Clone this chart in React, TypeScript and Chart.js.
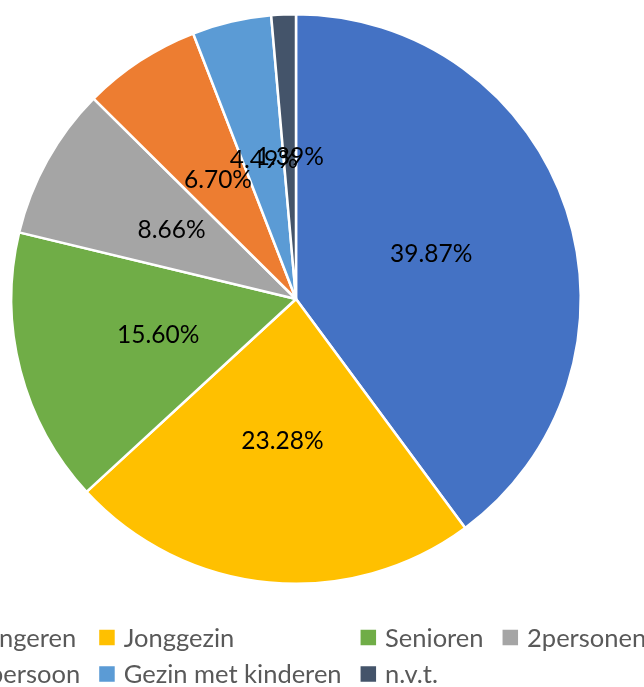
import React, { useEffect, useRef } from "react";
import { Chart, registerables } from "chart.js";

Chart.register(...registerables);

const categories = ["Jongeren", "Jonggezin", "Senioren", "2personen", "1persoon", "Gezin met kinderen", "n.v.t."];
const values = [39.87, 23.28, 15.6, 8.66, 6.7, 4.49, 1.39];
const colors = ["#4472C4", "#FFC000", "#70AD47", "#A5A5A5", "#ED7D31", "#5B9BD5", "#44546A"];
const legendColumns = 4;

const FONT = "Lato, 'Open Sans', sans-serif";

const labelPlugin = {
  id: "pctLabels",
  afterDatasetsDraw(chart: any) {
    const ctx = chart.ctx;
    const meta = chart.getDatasetMeta(0);
    ctx.save();
    ctx.font = `24.5px ${FONT}`;
    ctx.fillStyle = "#000000";
    ctx.textAlign = "center";
    ctx.textBaseline = "middle";
    meta.data.forEach((arc: any, i: number) => {
      const p = arc.getProps(["x", "y", "startAngle", "endAngle", "outerRadius"], true);
      const mid = (p.startAngle + p.endAngle) / 2;
      const r = p.outerRadius * 0.5;
      ctx.fillText(values[i].toFixed(2) + "%", p.x + Math.cos(mid) * r, p.y + Math.sin(mid) * r);
    });
    ctx.restore();
  },
};

const gridLegendPlugin = {
  id: "gridLegend",
  afterDraw(chart: any) {
    const ctx = chart.ctx;
    const labels: string[] = chart.data.labels;
    const bg: string[] = chart.data.datasets[0].backgroundColor;
    const box = 15.5;
    const boxGap = 9;
    const colGap = 19;
    const rowHeight = 36.5;
    const firstRowY = 637.5;
    ctx.save();
    ctx.font = `25.5px ${FONT}`;
    const colW: number[] = new Array(legendColumns).fill(0);
    labels.forEach((l, i) => {
      const w = box + boxGap + ctx.measureText(l).width;
      const c = i % legendColumns;
      colW[c] = Math.max(colW[c], w);
    });
    const total = colW.reduce((a, b) => a + b, 0) + colGap * (legendColumns - 1);
    const cx = (chart.chartArea.left + chart.chartArea.right) / 2 + 2;
    const startX = cx - total / 2;
    const colX: number[] = [];
    let acc = startX;
    colW.forEach((w) => {
      colX.push(acc);
      acc += w + colGap;
    });
    ctx.textAlign = "left";
    ctx.textBaseline = "middle";
    labels.forEach((l, i) => {
      const c = i % legendColumns;
      const r = Math.floor(i / legendColumns);
      const x = colX[c];
      const y = firstRowY + r * rowHeight;
      ctx.fillStyle = bg[i];
      ctx.fillRect(x, y - box / 2, box, box);
      ctx.fillStyle = "#595959";
      ctx.fillText(l, x + box + boxGap, y + 1);
    });
    ctx.restore();
  },
};

export default function App() {
  const ref = useRef<HTMLCanvasElement | null>(null);
  useEffect(() => {
    if (!ref.current) return;
    const chart = new Chart(ref.current, {
      type: "pie",
      data: {
        labels: categories,
        datasets: [
          {
            data: values,
            backgroundColor: colors,
            borderColor: "#ffffff",
            borderWidth: 2.5,
          },
        ],
      },
      options: {
        responsive: false,
        animation: false,
        layout: { padding: { left: 10, right: 62, top: 13, bottom: 102 } },
        plugins: {
          legend: { display: false },
          tooltip: { enabled: false },
        },
      },
      plugins: [labelPlugin, gridLegendPlugin],
    });
    return () => chart.destroy();
  }, []);
  return (
    <div style={{ position: "fixed", left: 0, top: 0, width: 644, height: 687, background: "#fff" }}>
      <canvas ref={ref} width={644} height={687} style={{ display: "block" }} />
    </div>
  );
}
